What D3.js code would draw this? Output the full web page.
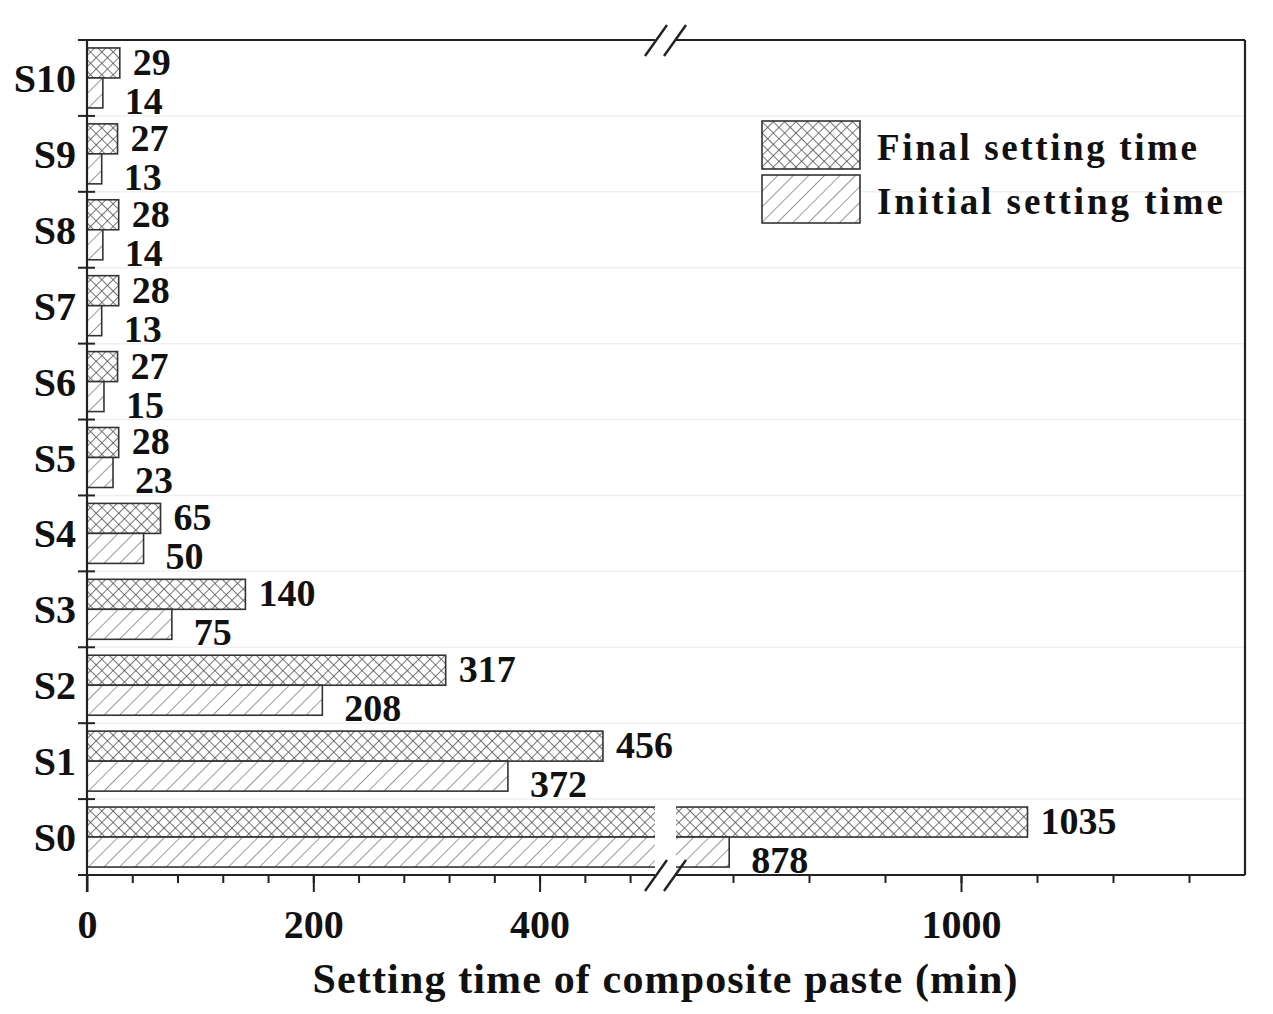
<!DOCTYPE html>
<html>
<head>
<meta charset="utf-8">
<script src="https://cdn.jsdelivr.net/npm/d3@7"></script>
<style>
  body { margin: 0; background: #fff; }
  text { font-family: "Liberation Serif", "Times New Roman", serif; font-weight: bold; fill: #111; }
</style>
</head>
<body>
<svg width="1273" height="1014"></svg>
<script>
// data
let categories = ["S0", "S1", "S2", "S3", "S4", "S5", "S6", "S7", "S8", "S9", "S10"];
let finalTime = [1035, 456, 317, 140, 65, 28, 27, 28, 28, 27, 29];
let initialTime = [878, 372, 208, 75, 50, 23, 15, 13, 14, 13, 14];
let seriesNames = ["Final setting time", "Initial setting time"];
let leftTicks = [0, 200, 400];
let rightTicks = [1000];

let svg = d3.select("svg");

let plotL = 87, plotR = 1245, plotT = 40, plotB = 875;
let breakA = 655, breakB = 676;

let xLeft = d3.scaleLinear().domain([0, 502]).range([plotL, breakA]);
let xRight = d3.scaleLinear().domain([850, 1150]).range([breakB, 1246]);
let x = v => v <= 502 ? xLeft(v) : xRight(v);

let y = d3.scaleBand().domain(categories.slice().reverse()).range([plotT, plotB]);
let ySub = d3.scaleBand().domain(["final", "initial"]).range([0, y.bandwidth()]).paddingOuter(0.265);

let rows = categories.map((c, i) => ({cat: c, final: finalTime[i], initial: initialTime[i]}));

// hatch patterns
let defs = svg.append("defs");
let cross = defs.append("pattern")
  .attr("id", "cross")
  .attr("patternUnits", "userSpaceOnUse")
  .attr("width", 8).attr("height", 8)
  .attr("patternTransform", "rotate(45)");
cross.append("rect").attr("width", 8).attr("height", 8).attr("fill", "#fff");
cross.append("line").attr("x1", 0).attr("y1", 0).attr("x2", 0).attr("y2", 8)
  .attr("stroke", "#555").attr("stroke-width", 1.6);
cross.append("line").attr("x1", 0).attr("y1", 0).attr("x2", 8).attr("y2", 0)
  .attr("stroke", "#555").attr("stroke-width", 1.6);

let diag = defs.append("pattern")
  .attr("id", "diag")
  .attr("patternUnits", "userSpaceOnUse")
  .attr("width", 11).attr("height", 11)
  .attr("patternTransform", "rotate(45)");
diag.append("rect").attr("width", 11).attr("height", 11).attr("fill", "#fff");
diag.append("line").attr("x1", 0).attr("y1", 0).attr("x2", 0).attr("y2", 11)
  .attr("stroke", "#555").attr("stroke-width", 1.2);

let fills = {final: "url(#cross)", initial: "url(#diag)"};

// faint grid at group boundaries
svg.append("g")
  .selectAll("line")
  .data(categories.slice(1))
  .enter().append("line")
  .attr("x1", plotL).attr("x2", plotR)
  .attr("y1", d => y(d) + y.bandwidth())
  .attr("y2", d => y(d) + y.bandwidth())
  .attr("stroke", "#f0f0f0").attr("stroke-width", 1.5);

// bars
let group = svg.append("g")
  .selectAll("g")
  .data(rows)
  .enter().append("g")
  .attr("transform", d => `translate(0,${y(d.cat)})`);

["final", "initial"].forEach(key => {
  group.append("rect")
    .attr("x", plotL)
    .attr("y", ySub(key))
    .attr("width", d => x(d[key]) - plotL)
    .attr("height", ySub.bandwidth())
    .attr("fill", fills[key])
    .attr("stroke", "#333")
    .attr("stroke-width", 1.6);
});

// gap of the axis break over long bars
group.filter(d => d.final > 502)
  .append("rect")
  .attr("x", breakA).attr("y", ySub("final") - 2)
  .attr("width", breakB - breakA)
  .attr("height", ySub.bandwidth() * 2 + 4)
  .attr("fill", "#fff");

// value labels
group.append("text")
  .attr("x", d => x(d.final) + 13)
  .attr("y", ySub("final") + ySub.bandwidth() - 3)
  .attr("font-size", 38)
  .text(d => d.final);

group.append("text")
  .attr("x", d => x(d.initial) + 22)
  .attr("y", ySub("initial") + ySub.bandwidth() + 6)
  .attr("font-size", 38)
  .text(d => d.initial);

// frame
let axisColor = "#222";
let frame = svg.append("g").attr("stroke", axisColor).attr("stroke-width", 2.2).attr("fill", "none");
frame.append("line").attr("x1", plotL).attr("x2", plotL).attr("y1", plotT).attr("y2", plotB + 17);
frame.append("line").attr("x1", plotR).attr("x2", plotR).attr("y1", plotT).attr("y2", plotB);
[plotT, plotB].forEach(yy => {
  frame.append("line").attr("x1", plotL - 5).attr("x2", breakA).attr("y1", yy).attr("y2", yy);
  frame.append("line").attr("x1", breakB).attr("x2", plotR).attr("y1", yy).attr("y2", yy);
  // break marks
  [0, 19].forEach(dx => {
    frame.append("line")
      .attr("x1", 645 + dx).attr("y1", yy + 16)
      .attr("x2", 667 + dx).attr("y2", yy - 15)
      .attr("stroke-width", 2.4);
  });
});

// left category ticks
svg.append("g")
  .selectAll("line")
  .data(d3.range(categories.length + 1))
  .enter().append("line")
  .attr("x1", plotL - 9).attr("x2", plotL + 8)
  .attr("y1", i => plotT + i * y.step())
  .attr("y2", i => plotT + i * y.step())
  .attr("stroke", axisColor).attr("stroke-width", 2);

// category labels
svg.append("g")
  .selectAll("text")
  .data(categories)
  .enter().append("text")
  .attr("x", 76)
  .attr("y", d => y(d) + y.bandwidth() / 2 + 14)
  .attr("text-anchor", "end")
  .attr("font-size", 40)
  .text(d => d);

// bottom axes: minor ticks, then major ticks with labels
function drawAxis(scale, minor, major) {
  let gMinor = svg.append("g")
    .attr("transform", `translate(0,${plotB})`)
    .call(d3.axisBottom(scale).tickValues(minor).tickSize(8).tickFormat(""));
  let gMajor = svg.append("g")
    .attr("transform", `translate(0,${plotB})`)
    .call(d3.axisBottom(scale).tickValues(major).tickSize(17).tickFormat(d3.format("d")));
  [gMinor, gMajor].forEach(g => {
    g.select(".domain").remove();
    g.selectAll("line").attr("stroke", axisColor).attr("stroke-width", 2);
    g.selectAll("text")
      .attr("font-size", 40)
      .attr("font-family", "Liberation Serif, serif")
      .attr("font-weight", "bold")
      .attr("fill", "#111")
      .attr("dy", null)
      .attr("y", 63);
  });
}
drawAxis(xLeft, d3.range(40, 501, 40), leftTicks);
drawAxis(xRight, d3.range(880, 1121, 40), rightTicks);

// axis title
svg.append("text")
  .attr("x", 665).attr("y", 993)
  .attr("text-anchor", "middle")
  .attr("font-size", 42)
  .attr("textLength", 705)
  .attr("lengthAdjust", "spacing")
  .text("Setting time of composite paste (min)");

// legend
let legend = svg.append("g")
  .selectAll("g")
  .data(seriesNames)
  .enter().append("g")
  .attr("transform", (d, i) => `translate(762,${121 + i * 54})`);

legend.append("rect")
  .attr("width", 98).attr("height", 48)
  .attr("fill", (d, i) => i === 0 ? fills.final : fills.initial)
  .attr("stroke", "#333").attr("stroke-width", 1.6);

legend.append("text")
  .attr("x", 115).attr("y", 39)
  .attr("font-size", 37)
  .attr("textLength", (d, i) => i === 0 ? 320 : 346)
  .attr("lengthAdjust", "spacing")
  .text(d => d);
</script>
</body>
</html>
